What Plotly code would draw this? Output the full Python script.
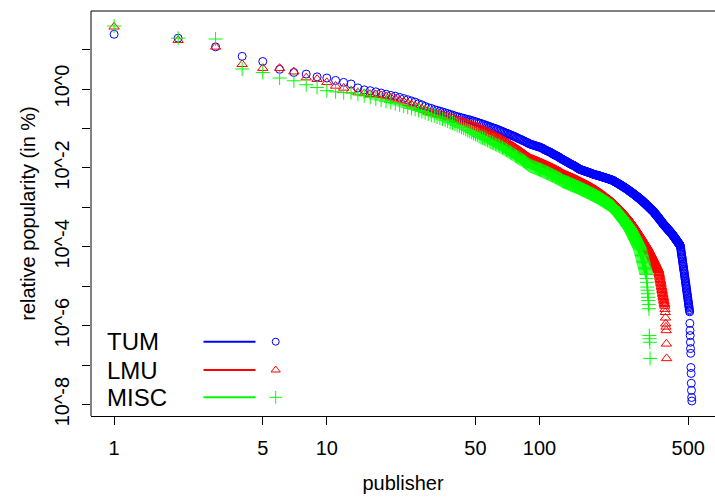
import plotly.graph_objects as go

# log10 of relative popularity (in %) by publisher rank
tum_log10 = [
    1.39, 1.29, 1.07, 0.83, 0.70, 0.50, 0.42, 0.38, 0.31, 0.28, 0.22, 0.17, 0.13, 0.03, -0.02, -0.04, -0.07, -0.10, -0.13, -0.16,
    -0.18, -0.21, -0.24, -0.27, -0.30, -0.33, -0.37, -0.40, -0.44, -0.47,
    -0.49, -0.52, -0.54, -0.56, -0.58, -0.60, -0.62, -0.64, -0.66, -0.68,
    -0.70, -0.71, -0.73, -0.74, -0.76, -0.77, -0.78, -0.80, -0.81, -0.83, -0.84, -0.86,
    -0.87, -0.89, -0.90, -0.92, -0.93, -0.95, -0.96, -0.98, -0.99, -1.00, -1.02, -1.03, -1.05, -1.06, -1.08, -1.09, -1.11, -1.12,
    -1.13, -1.15, -1.16, -1.17, -1.19, -1.20, -1.21, -1.23, -1.24, -1.26, -1.27, -1.28, -1.30, -1.31, -1.32, -1.34, -1.35, -1.36, -1.38, -1.39,
    -1.40, -1.41, -1.42, -1.42, -1.43, -1.44, -1.45, -1.46, -1.46, -1.47,
    -1.48, -1.49, -1.50, -1.51, -1.53, -1.54, -1.55, -1.56, -1.57, -1.58, -1.59, -1.60, -1.61, -1.62, -1.64, -1.65, -1.66, -1.67, -1.68, -1.69,
    -1.70, -1.71, -1.72, -1.73, -1.75, -1.76, -1.77, -1.78, -1.79, -1.80,
    -1.81, -1.82, -1.83, -1.84, -1.85, -1.86, -1.87, -1.88, -1.89, -1.90, -1.91, -1.92, -1.92, -1.93, -1.94, -1.95, -1.96, -1.97, -1.98, -1.99,
    -2.00, -2.01, -2.02, -2.03, -2.04,
    -2.04, -2.05, -2.05, -2.06, -2.06, -2.07, -2.07, -2.08, -2.08, -2.09, -2.09, -2.10, -2.10, -2.11, -2.11, -2.12, -2.12, -2.13, -2.13, -2.14,
    -2.14, -2.15, -2.15, -2.16, -2.16, -2.17, -2.17, -2.17, -2.18, -2.18,
    -2.18, -2.19, -2.19, -2.19, -2.20, -2.20, -2.21, -2.21, -2.21, -2.22, -2.22, -2.22, -2.23, -2.23, -2.24, -2.24, -2.24, -2.25, -2.25, -2.25,
    -2.26, -2.26, -2.27, -2.27, -2.27, -2.28, -2.28, -2.28, -2.29, -2.29, -2.30, -2.30, -2.30, -2.31, -2.31, -2.31, -2.32,
    -2.33, -2.33, -2.34, -2.35, -2.35, -2.36, -2.36, -2.37, -2.38, -2.38, -2.39, -2.39, -2.40, -2.41, -2.41, -2.42, -2.42, -2.43, -2.44, -2.44,
    -2.45, -2.45, -2.46, -2.47, -2.47, -2.48, -2.48, -2.49, -2.50, -2.50, -2.51, -2.51, -2.52, -2.53, -2.53, -2.54, -2.54, -2.55,
    -2.56, -2.56, -2.57, -2.58, -2.58, -2.59, -2.60, -2.60, -2.61, -2.62, -2.62, -2.63, -2.63, -2.64, -2.65, -2.65, -2.66, -2.67, -2.67, -2.68,
    -2.69, -2.69, -2.70, -2.71, -2.71, -2.72, -2.72, -2.73, -2.74, -2.74, -2.75, -2.76, -2.76, -2.77, -2.78, -2.78,
    -2.79, -2.79, -2.80, -2.81, -2.81, -2.82, -2.83, -2.83, -2.84, -2.85, -2.86, -2.86, -2.87, -2.88, -2.88, -2.89, -2.90, -2.90, -2.91, -2.92,
    -2.93, -2.93, -2.94, -2.95, -2.95, -2.96, -2.97, -2.97, -2.98, -2.99, -3.00, -3.00, -3.01, -3.02, -3.02, -3.03, -3.04, -3.04, -3.05, -3.06,
    -3.07, -3.07, -3.08, -3.08,
    -3.09, -3.10, -3.10, -3.11, -3.12, -3.13, -3.14, -3.15, -3.15, -3.16, -3.17, -3.18, -3.19, -3.19, -3.20, -3.21, -3.22, -3.23, -3.24, -3.24,
    -3.25, -3.26, -3.27, -3.28, -3.28, -3.29, -3.30, -3.31, -3.32, -3.33, -3.33, -3.34, -3.35, -3.36, -3.37, -3.37, -3.38, -3.39, -3.40, -3.41,
    -3.42,
    -3.43, -3.43, -3.44, -3.45, -3.45, -3.46, -3.47, -3.47, -3.48, -3.49, -3.49, -3.50, -3.51, -3.51, -3.52, -3.53, -3.53, -3.54, -3.55, -3.55,
    -3.56, -3.57, -3.57, -3.58, -3.59, -3.59, -3.60, -3.61, -3.61, -3.62, -3.63, -3.63, -3.64, -3.65, -3.65, -3.66, -3.67, -3.67, -3.68,
    -3.69, -3.69, -3.70, -3.71, -3.72, -3.72, -3.73, -3.74, -3.75, -3.75, -3.76, -3.77, -3.78, -3.78, -3.79, -3.80, -3.81, -3.81, -3.82, -3.83,
    -3.84, -3.84, -3.85, -3.86, -3.87, -3.87, -3.88, -3.89, -3.90, -3.90, -3.91, -3.92, -3.93, -3.93, -3.94, -3.95, -3.96, -3.96, -3.97,
    -4.00, -4.04, -4.07, -4.11, -4.14, -4.18, -4.21, -4.25, -4.28, -4.31, -4.35, -4.38, -4.42, -4.45, -4.49, -4.52, -4.56, -4.59, -4.62, -4.66,
    -4.69, -4.73, -4.76, -4.80, -4.83, -4.87, -4.90, -4.93, -4.97, -5.00, -5.04, -5.07, -5.11, -5.14, -5.18, -5.21, -5.24, -5.28, -5.31, -5.35,
    -5.38, -5.42, -5.45, -5.49, -5.52, -5.55, -5.59, -5.62, -5.65,
    -5.94, -6.12, -6.25, -6.42, -6.58, -6.70, -7.06, -7.21, -7.46, -7.64, -7.82, -7.91,
]

lmu_log10 = [
    1.58, 1.24, 1.07, 0.63, 0.53, 0.53, 0.44, 0.29, 0.25, 0.17, 0.08, 0.03, -0.04, -0.09, -0.11, -0.13, -0.14, -0.16, -0.19, -0.22,
    -0.25, -0.29, -0.32, -0.36, -0.39, -0.43, -0.46, -0.50, -0.54, -0.58,
    -0.60, -0.62, -0.64, -0.66, -0.67, -0.69, -0.71, -0.73, -0.75, -0.77, -0.79, -0.80, -0.82, -0.84, -0.86, -0.88, -0.90, -0.92, -0.93, -0.95,
    -0.97, -0.99,
    -1.01, -1.03, -1.05, -1.07, -1.09, -1.11, -1.13, -1.15, -1.17, -1.19, -1.21, -1.23, -1.25, -1.27, -1.29, -1.31, -1.33, -1.35, -1.37, -1.39,
    -1.41, -1.43, -1.45, -1.47, -1.49, -1.51, -1.53, -1.55, -1.57, -1.59, -1.61, -1.63, -1.65, -1.67, -1.69, -1.71, -1.73, -1.75,
    -1.76, -1.77, -1.78, -1.79, -1.80, -1.81, -1.82, -1.83, -1.84, -1.85, -1.86, -1.87, -1.88, -1.89, -1.90, -1.91, -1.92, -1.93, -1.94, -1.95,
    -1.96, -1.97, -1.98, -1.99, -2.00, -2.01, -2.02, -2.03, -2.04, -2.05, -2.06, -2.07, -2.08, -2.09, -2.10, -2.11, -2.12, -2.14, -2.15,
    -2.16, -2.16, -2.17, -2.18, -2.19, -2.19, -2.20, -2.21, -2.22, -2.22, -2.23, -2.24, -2.25, -2.25, -2.26, -2.27, -2.28, -2.28, -2.29, -2.30,
    -2.31, -2.31, -2.32, -2.33, -2.34, -2.34, -2.35, -2.36, -2.37, -2.37, -2.38, -2.39, -2.40, -2.40, -2.41, -2.42, -2.43, -2.43, -2.44, -2.45,
    -2.46, -2.46, -2.47, -2.48, -2.49, -2.49, -2.50, -2.51, -2.52, -2.52, -2.53, -2.54, -2.55, -2.55, -2.56, -2.57,
    -2.58, -2.59, -2.60, -2.60, -2.61, -2.62, -2.63, -2.64, -2.65, -2.66, -2.66, -2.67, -2.68, -2.69, -2.70, -2.71, -2.72, -2.72, -2.73, -2.74,
    -2.75, -2.76, -2.77, -2.78, -2.78, -2.79, -2.80, -2.81, -2.82, -2.83, -2.84, -2.84, -2.85, -2.86, -2.87, -2.88, -2.89,
    -2.90, -2.91, -2.92, -2.93, -2.94, -2.95, -2.96, -2.97, -2.98, -2.99, -3.00, -3.01, -3.02, -3.03, -3.04, -3.05, -3.06, -3.07, -3.08, -3.09,
    -3.10, -3.11, -3.12, -3.13, -3.14, -3.15, -3.16, -3.17, -3.18, -3.19, -3.20, -3.21, -3.22, -3.23, -3.24, -3.25, -3.26, -3.27, -3.28, -3.29,
    -3.30, -3.31, -3.32, -3.33,
    -3.34, -3.36, -3.37, -3.38, -3.39, -3.41, -3.42, -3.43, -3.44, -3.46, -3.47, -3.48, -3.49, -3.51, -3.52, -3.53, -3.54, -3.56, -3.57, -3.58,
    -3.59, -3.61, -3.62, -3.63, -3.64, -3.66, -3.67, -3.68, -3.69, -3.71, -3.72, -3.73, -3.74, -3.76, -3.77, -3.78, -3.79, -3.81, -3.82, -3.83,
    -3.84, -3.86, -3.87, -3.88, -3.89, -3.91, -3.92, -3.93, -3.94, -3.96, -3.97, -3.97,
    -3.98, -4.00, -4.01, -4.03, -4.04, -4.05, -4.07, -4.08, -4.10, -4.11, -4.12, -4.14, -4.15, -4.17, -4.18, -4.19, -4.21, -4.22, -4.24, -4.25,
    -4.26, -4.28, -4.29, -4.31, -4.32, -4.33, -4.35, -4.36, -4.38, -4.39, -4.40, -4.42, -4.43, -4.45, -4.46, -4.47, -4.49, -4.50, -4.52, -4.53,
    -4.54, -4.56, -4.57, -4.59, -4.60,
    -4.64, -4.67, -4.71, -4.74, -4.78, -4.82, -4.85, -4.89, -4.92, -4.96, -5.00, -5.03, -5.07, -5.10, -5.14, -5.18, -5.21, -5.25, -5.28, -5.32,
    -5.36, -5.39, -5.43, -5.46, -5.50,
    -5.58, -5.66, -5.80, -5.95, -6.03, -6.12, -6.46, -6.83,
]

misc_log10 = [
    1.60, 1.29, 1.27, 0.51, 0.42, 0.28, 0.21, 0.11, 0.04, -0.04, -0.07, -0.09, -0.09, -0.13, -0.17, -0.21, -0.25, -0.28, -0.31, -0.34,
    -0.37, -0.40, -0.43, -0.46, -0.49, -0.51, -0.54, -0.57, -0.60, -0.63,
    -0.66, -0.68, -0.71, -0.73, -0.76, -0.79, -0.81, -0.84, -0.86, -0.89, -0.92, -0.94, -0.97, -0.99, -1.02, -1.05, -1.07, -1.10, -1.12, -1.15,
    -1.17, -1.20,
    -1.22, -1.24, -1.26, -1.28, -1.30, -1.32, -1.34, -1.36, -1.38, -1.40, -1.41, -1.43, -1.45, -1.47, -1.49, -1.51, -1.53, -1.55, -1.57, -1.59,
    -1.61, -1.63, -1.65, -1.67, -1.69, -1.71, -1.73, -1.75, -1.77, -1.78, -1.80, -1.82, -1.84, -1.86, -1.88, -1.90, -1.92, -1.94,
    -1.95, -1.96, -1.97, -1.98, -1.99, -2.00, -2.01, -2.02, -2.03, -2.04, -2.05, -2.06, -2.07, -2.08, -2.09, -2.10, -2.11, -2.12, -2.13, -2.14,
    -2.15, -2.16, -2.17, -2.18, -2.19, -2.20, -2.21, -2.22, -2.23, -2.24, -2.25, -2.26, -2.27, -2.28, -2.29, -2.30, -2.31, -2.33, -2.34,
    -2.35, -2.35, -2.36, -2.37, -2.37, -2.38, -2.39, -2.39, -2.40, -2.41, -2.42, -2.42, -2.43, -2.44, -2.44, -2.45, -2.46, -2.46, -2.47, -2.48,
    -2.48, -2.49, -2.50, -2.50, -2.51, -2.52, -2.53, -2.53, -2.54, -2.55, -2.55, -2.56, -2.57, -2.57, -2.58, -2.59, -2.59, -2.60, -2.61, -2.61,
    -2.62, -2.63, -2.64, -2.64, -2.65, -2.66, -2.66, -2.67, -2.68, -2.68, -2.69, -2.70, -2.70, -2.71, -2.72, -2.72,
    -2.73, -2.74, -2.74, -2.75, -2.76, -2.77, -2.77, -2.78, -2.79, -2.80, -2.80, -2.81, -2.82, -2.83, -2.83, -2.84, -2.85, -2.86, -2.86, -2.87,
    -2.88, -2.89, -2.89, -2.90, -2.91, -2.92, -2.92, -2.93, -2.94, -2.95, -2.95, -2.96, -2.97, -2.98, -2.98, -2.99, -3.00,
    -3.01, -3.02, -3.04, -3.05, -3.06, -3.07, -3.09, -3.10, -3.11, -3.12, -3.14, -3.15, -3.16, -3.17, -3.18, -3.20, -3.21, -3.22, -3.23, -3.25,
    -3.26, -3.27, -3.28, -3.30, -3.31, -3.32, -3.33, -3.34, -3.36, -3.37, -3.38, -3.39, -3.41, -3.42, -3.43, -3.44, -3.46, -3.47, -3.48, -3.49,
    -3.50, -3.52, -3.53, -3.54,
    -3.56, -3.57, -3.59, -3.61, -3.62, -3.64, -3.66, -3.67, -3.69, -3.71, -3.72, -3.74, -3.76, -3.77, -3.79, -3.81, -3.82, -3.84, -3.86, -3.87,
    -3.89, -3.91, -3.92, -3.94, -3.96, -3.97, -3.99, -4.01, -4.02, -4.04,
    -4.07, -4.10, -4.13, -4.16, -4.19, -4.22, -4.25, -4.28, -4.31, -4.34, -4.37, -4.40, -4.43, -4.46, -4.49, -4.52, -4.55, -4.58, -4.61, -4.64,
    -4.67, -4.70,
    -4.80, -4.90, -5.02, -5.10, -5.19, -5.28, -5.36, -5.46, -5.57, -6.25, -6.33, -6.42, -6.83,
]

series_names = ["TUM", "LMU", "MISC"]
series_colors = ["#0000FF", "#FF0000", "#00FF00"]
series_symbols = ["circle-open", "triangle-up-open", "cross-thin-open"]
series_sizes = [8, 9, 10]

x_tick_vals = [1, 5, 10, 50, 100, 500]
x_tick_text = ["1", "5", "10", "50", "100", "500"]
y_tick_exps = [1, 0, -1, -2, -3, -4, -5, -6, -7, -8]
y_tick_text = ["", "10^0", "", "10^-2", "", "10^-4", "", "10^-6", "", "10^-8"]

FONT = "Liberation Sans, Arial, Helvetica, sans-serif"
W, H = 715, 499
ML, MR, MT, MB = 91, 0, 11, 83
PW, PH = W - ML - MR, H - MT - MB
X_RANGE = [-0.1086, 2.825]   # log10 axis range
Y_RANGE = [-8.29, 1.98]

fig = go.Figure()
for name, vals, col, sym, sz in zip(series_names, [tum_log10, lmu_log10, misc_log10],
                                    series_colors, series_symbols, series_sizes):
    ranks = list(range(1, len(vals) + 1))
    fig.add_trace(go.Scatter(
        x=ranks, y=[10 ** v for v in vals], mode="markers", name=name,
        marker=dict(symbol=sym, size=sz, color=col, line=dict(color=col, width=1)),
        showlegend=False, hoverinfo="skip", cliponaxis=True))

# legend drawn R-style (text, line segment, symbol), placed in plot-area pixels
def px_to_fx(px):
    return (px - ML) / PW

def py_to_fy(py):
    return (MT + PH - py) / PH

def fx_to_data(fx):
    return 10 ** (X_RANGE[0] + fx * (X_RANGE[1] - X_RANGE[0]))

def fy_to_data(fy):
    return 10 ** (Y_RANGE[0] + fy * (Y_RANGE[1] - Y_RANGE[0]))

legend_rows_py = [341.7, 370.0, 397.3]
for name, col, sym, sz, py in zip(series_names, series_colors, series_symbols, series_sizes, legend_rows_py):
    fy = py_to_fy(py)
    fig.add_shape(type="line", xref="paper", yref="paper",
                  x0=px_to_fx(203.5), x1=px_to_fx(255.5), y0=fy, y1=fy,
                  line=dict(color=col, width=2))
    fig.add_trace(go.Scatter(
        x=[fx_to_data(px_to_fx(275.7))], y=[fy_to_data(fy)], mode="markers",
        marker=dict(symbol=sym, size=sz - 1, color=col, line=dict(color=col, width=1)),
        showlegend=False, hoverinfo="skip"))
    fig.add_annotation(
        x=px_to_fx(104.5), y=fy, xref="paper", yref="paper", text=name,
        showarrow=False, xanchor="left", yanchor="middle",
        font=dict(family=FONT, size=24, color="black"))

# frame: left and top sides (the right side lies just outside the picture)
fig.add_shape(type="line", xref="paper", yref="paper", x0=0, x1=0, y0=0, y1=1,
              line=dict(color="black", width=1))
fig.add_shape(type="line", xref="paper", yref="paper", x0=0, x1=1, y0=1, y1=1,
              line=dict(color="black", width=1))

fig.update_layout(
    width=W, height=H,
    margin=dict(l=ML, r=MR, t=MT, b=MB, autoexpand=False),
    paper_bgcolor="white", plot_bgcolor="white",
    font=dict(family=FONT, size=20, color="black"),
    xaxis=dict(
        type="log", range=X_RANGE, automargin=False,
        tickvals=x_tick_vals, ticktext=x_tick_text,
        ticks="outside", ticklen=8, tickwidth=1, tickcolor="black",
        showline=True, linecolor="black", linewidth=1, mirror=False,
        showgrid=False, zeroline=False, ticklabelstandoff=6,
        tickfont=dict(family=FONT, size=20, color="black"),
        title=dict(text="publisher", standoff=17,
                   font=dict(family=FONT, size=20, color="black")),
    ),
    yaxis=dict(
        type="log", range=Y_RANGE, automargin=False,
        tickvals=[10 ** e for e in y_tick_exps], ticktext=y_tick_text,
        tickangle=-90,
        ticks="outside", ticklen=8, tickwidth=1, tickcolor="black",
        showline=False, mirror=False,
        showgrid=False, zeroline=False, ticklabelstandoff=5,
        tickfont=dict(family=FONT, size=20, color="black"),
        title=dict(text="relative popularity (in %)", standoff=10,
                   font=dict(family=FONT, size=20, color="black")),
    ),
)

fig.write_html(
    "out.html",
    config={"displayModeBar": False},
    post_script="document.body.style.margin='0px';document.body.style.overflow='hidden';",
)
